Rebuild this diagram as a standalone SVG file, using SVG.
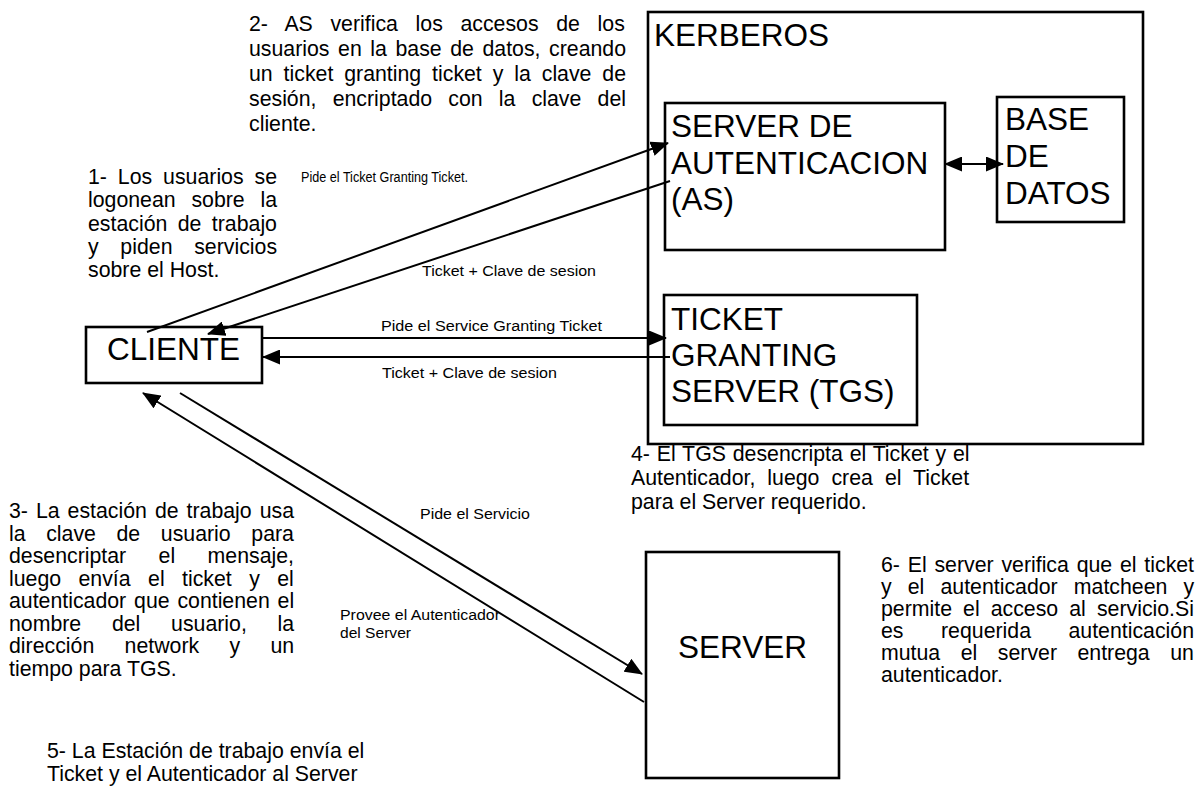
<svg xmlns="http://www.w3.org/2000/svg" width="1197" height="790" viewBox="0 0 1197 790">
<style>
text{font-family:"Liberation Sans",Arial,Helvetica,sans-serif;fill:#000}
.p{font-size:21.3px}
.big{font-size:31.5px}
.lbl{font-size:15.5px}
.box{fill:none;stroke:#000;stroke-width:2.6}
.con{fill:none;stroke:#000;stroke-width:2}
</style>
<defs>
<marker id="ah" markerWidth="18" markerHeight="15" refX="17" refY="7.5" orient="auto-start-reverse" markerUnits="userSpaceOnUse">
<path d="M0,0 L18,7.5 L0,15 z" fill="#000"/>
</marker>
</defs>
<rect width="1197" height="790" fill="#fff"/>

<g id="kerberos">
<rect class="box" x="648" y="12" width="495" height="432" stroke-width="3"/>
<text class="big" x="654" y="46">KERBEROS</text>
</g>
<g id="as">
<rect class="box" x="665" y="103" width="280" height="147"/>
<text class="big" x="671" y="137">SERVER DE</text>
<text class="big" x="671" y="173.5">AUTENTICACION</text>
<text class="big" x="671" y="210">(AS)</text>
</g>
<g id="base">
<rect class="box" x="997" y="97" width="127" height="125"/>
<text class="big" x="1005" y="130">BASE</text>
<text class="big" x="1005" y="167">DE</text>
<text class="big" x="1005" y="204">DATOS</text>
</g>
<g id="tgs">
<rect class="box" x="664" y="295" width="253" height="130"/>
<text class="big" x="671" y="330">TICKET</text>
<text class="big" x="671" y="366">GRANTING</text>
<text class="big" x="671" y="402">SERVER (TGS)</text>
</g>
<g id="cliente">
<rect class="box" x="86" y="327" width="176" height="56"/>
<text class="big" x="107" y="360">CLIENTE</text>
</g>
<g id="server">
<rect class="box" x="646" y="552" width="193" height="226" stroke-width="2.2"/>
<text class="big" x="678" y="658">SERVER</text>
</g>

<g id="connectors">
<line class="con" x1="147" y1="332" x2="668" y2="143" marker-end="url(#ah)"/>
<line class="con" x1="670" y1="181" x2="208" y2="334" marker-end="url(#ah)"/>
<line class="con" x1="262" y1="338" x2="666" y2="338" marker-end="url(#ah)"/>
<line class="con" x1="670" y1="357" x2="263" y2="357" marker-end="url(#ah)"/>
<line class="con" x1="180" y1="393" x2="642" y2="674" marker-end="url(#ah)"/>
<line class="con" x1="644" y1="702" x2="143" y2="393" marker-end="url(#ah)"/>
<line class="con" x1="945" y1="164" x2="1003" y2="164" marker-start="url(#ah)" marker-end="url(#ah)"/>
</g>

<g id="labels">
<text class="lbl" x="301" y="182" style="font-size:14px" textLength="167" lengthAdjust="spacingAndGlyphs">Pide el Ticket Granting Ticket.</text>
<text class="lbl" x="422" y="276" textLength="174" lengthAdjust="spacingAndGlyphs">Ticket + Clave de sesion</text>
<text class="lbl" x="381" y="331" textLength="221" lengthAdjust="spacingAndGlyphs">Pide el Service Granting Ticket</text>
<text class="lbl" x="382" y="378" textLength="175" lengthAdjust="spacingAndGlyphs">Ticket + Clave de sesion</text>
<text class="lbl" x="420" y="519" textLength="110" lengthAdjust="spacingAndGlyphs">Pide el Servicio</text>
<text class="lbl" x="340" y="620" textLength="160" lengthAdjust="spacingAndGlyphs">Provee el Autenticador</text>
<text class="lbl" x="340" y="638" textLength="71" lengthAdjust="spacingAndGlyphs">del Server</text>
</g>

<g id="note1">
<text class="p" x="88" y="184" word-spacing="5">1- Los usuarios se</text>
<text class="p" x="88" y="207.25" word-spacing="9.85">logonean sobre la</text>
<text class="p" x="88" y="230.5" word-spacing="4.5">estación de trabajo</text>
<text class="p" x="88" y="253.75" word-spacing="15.8">y piden servicios</text>
<text class="p" x="88" y="277">sobre el Host.</text>
</g>
<g id="note2">
<text class="p" x="249" y="31" word-spacing="11.73">2- AS verifica los accesos de los</text>
<text class="p" x="249" y="56" word-spacing="2.65">usuarios en la base de datos, creando</text>
<text class="p" x="249" y="81" word-spacing="4.99">un ticket granting ticket y la clave de</text>
<text class="p" x="249" y="106" word-spacing="10.28">sesión, encriptado con la clave del</text>
<text class="p" x="249" y="131">cliente.</text>
</g>
<g id="note3">
<text class="p" x="9" y="518" word-spacing="2.06">3- La estación de trabajo usa</text>
<text class="p" x="9" y="540.5" word-spacing="14.7">la clave de usuario para</text>
<text class="p" x="9" y="563" word-spacing="26.5">desencriptar el mensaje,</text>
<text class="p" x="9" y="585.5" word-spacing="11.5">luego envía el ticket y el</text>
<text class="p" x="9" y="608" word-spacing="1.9">autenticador que contienen el</text>
<text class="p" x="9" y="630.5" word-spacing="24.8">nombre del usuario, la</text>
<text class="p" x="9" y="653" word-spacing="24.4">dirección network y un</text>
<text class="p" x="9" y="675.5">tiempo para TGS.</text>
</g>
<g id="note4">
<text class="p" x="631" y="461" word-spacing="0.9">4- El TGS desencripta el Ticket y el</text>
<text class="p" x="631" y="485" word-spacing="6.1">Autenticador, luego crea el Ticket</text>
<text class="p" x="631" y="509">para el Server requerido.</text>
</g>
<g id="note5">
<text class="p" x="47" y="758">5- La Estación de trabajo envía el</text>
<text class="p" x="47" y="781">Ticket y el Autenticador al Server</text>
</g>
<g id="note6">
<text class="p" x="881" y="572" word-spacing="1.87">6- El server verifica que el ticket</text>
<text class="p" x="881" y="594" word-spacing="10.2">y el autenticador matcheen y</text>
<text class="p" x="881" y="616" word-spacing="5.15">permite el acceso al servicio.Si</text>
<text class="p" x="881" y="638" word-spacing="31.6">es requerida autenticación</text>
<text class="p" x="881" y="660" word-spacing="14.6">mutua el server entrega un</text>
<text class="p" x="881" y="682">autenticador.</text>
</g>
</svg>
